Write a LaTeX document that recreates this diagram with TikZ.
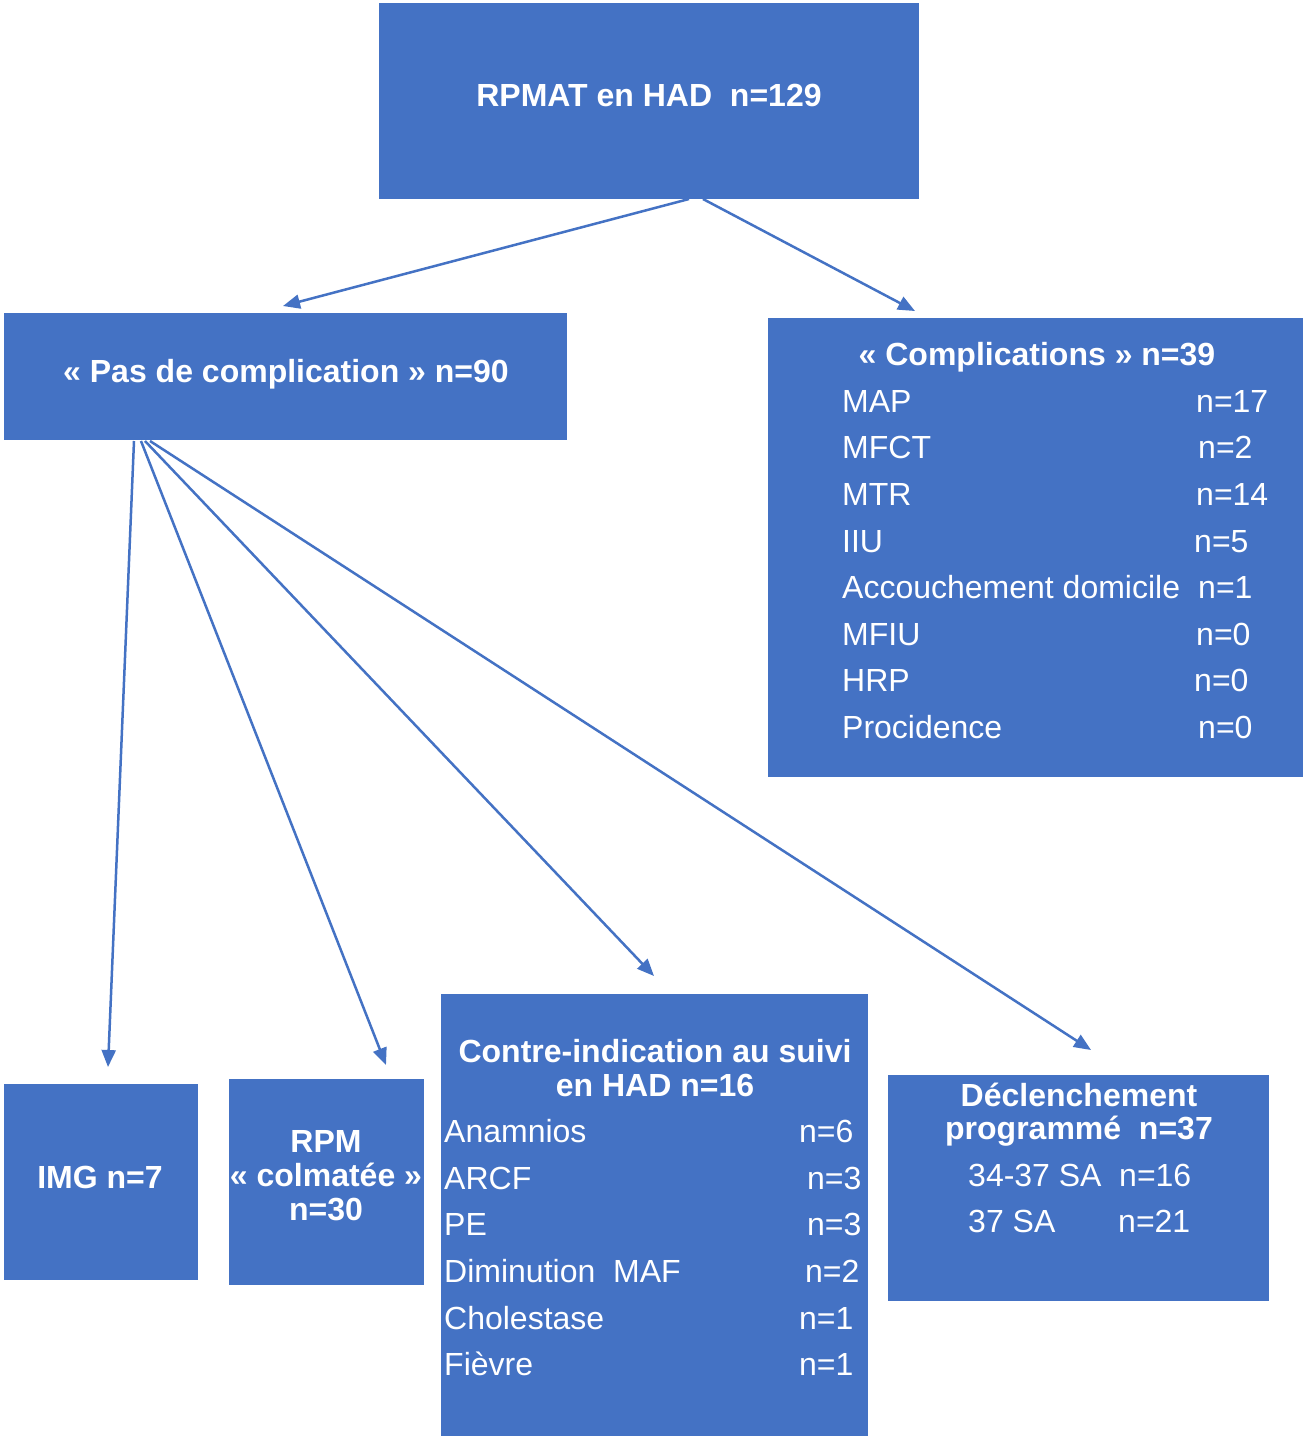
\documentclass[tikz,border=0pt]{standalone}
\usepackage{fontspec}
\setmainfont{Liberation Sans}
\usetikzlibrary{arrows.meta}
\definecolor{boxblue}{HTML}{4472C4}
\tikzset{
  box/.style={fill=boxblue, draw=none, inner sep=0pt},
  ttl/.style={text=white, font=\fontsize{32}{34}\selectfont\bfseries, anchor=base, inner sep=0pt},
  itm/.style={text=white, font=\fontsize{32}{34}\selectfont, anchor=base west, inner sep=0pt},
  conn/.style={draw=boxblue, line width=2.5pt, -{Triangle[length=17pt,width=14pt]}},
}
\begin{document}
\begin{tikzpicture}[x=1pt,y=-1pt]
\path[use as bounding box, fill=white] (0,0) rectangle (1303,1436);
% boxes
\path[box] (379,3) rectangle (919,199) coordinate (topbr);
\path[box] (4,313) rectangle (567,440);
\path[box] (768,318) rectangle (1303,777);
\path[box] (4,1084) rectangle (198,1280);
\path[box] (229,1079) rectangle (424,1285);
\path[box] (441,994) rectangle (868,1436);
\path[box] (888,1075) rectangle (1269,1301);
% top
\node[ttl] (toptxt) at (649,106.5) {RPMAT en HAD\ \ n=129};
% pas de complication
\node[ttl] (pastxt) at (286,382.5) {« Pas de complication »\ n=90};
% complications
\node[ttl] (comptxt) at (1037,365.5) {« Complications »\ n=39};
\node[itm] (c1) at (842,412.5) {MAP};
\node[itm] (c1n) at (1196,412.5) {n=17};
\node[itm] (c2) at (842,458.5) {MFCT};
\node[itm] (c2n) at (1198,458.5) {n=2};
\node[itm] (c3) at (842,505.5) {MTR};
\node[itm] (c3n) at (1196,505.5) {n=14};
\node[itm] (c4) at (842,552.5) {IIU};
\node[itm] (c4n) at (1194,552.5) {n=5};
\node[itm] (c5) at (842,598.5) {Accouchement domicile};
\node[itm] (c5n) at (1198,598.5) {n=1};
\node[itm] (c6) at (842,645.5) {MFIU};
\node[itm] (c6n) at (1196,645.5) {n=0};
\node[itm] (c7) at (842,691.5) {HRP};
\node[itm] (c7n) at (1194,691.5) {n=0};
\node[itm] (c8) at (842,738.5) {Procidence};
\node[itm] (c8n) at (1198,738.5) {n=0};
% IMG
\node[ttl] (imgtxt) at (100,1188.5) {IMG n=7};
% RPM
\node[ttl] (rpm1) at (326,1152.5) {RPM};
\node[ttl] (rpm2) at (326,1186.5) {« colmatée »};
\node[ttl] (rpm3) at (326,1220.5) {n=30};
% contre-indication
\node[ttl] (ci1) at (655,1062.5) {Contre-indication au suivi};
\node[ttl] (ci2) at (655,1096.5) {en HAD n=16};
\node[itm] (d1) at (444,1142.5) {Anamnios};
\node[itm] (d1n) at (799,1142.5) {n=6};
\node[itm] (d2) at (444,1189.5) {ARCF};
\node[itm] (d2n) at (807,1189.5) {n=3};
\node[itm] (d3) at (444,1235.5) {PE};
\node[itm] (d3n) at (807,1235.5) {n=3};
\node[itm] (d4) at (444,1282.5) {Diminution\ \ MAF};
\node[itm] (d4n) at (805,1282.5) {n=2};
\node[itm] (d5) at (444,1329.5) {Cholestase};
\node[itm] (d5n) at (799,1329.5) {n=1};
\node[itm] (d6) at (444,1375.5) {Fièvre};
\node[itm] (d6n) at (799,1375.5) {n=1};
% declenchement
\node[ttl] (de1) at (1079,1106.5) {Déclenchement};
\node[ttl] (de2) at (1079,1139.5) {programmé\ \ n=37};
\node[itm] (e1) at (968,1186.5) {34-37 SA};
\node[itm] (e1n) at (1119,1186.5) {n=16};
\node[itm] (e2) at (968,1232.5) {37 SA};
\node[itm] (e2n) at (1118,1232.5) {n=21};
% connector end points
\coordinate (s1) at (689,199);
\coordinate (s2) at (703,199);
\coordinate (t1) at (283,306);
\coordinate (t2) at (915,311);
\coordinate (p1) at (134,441);
\coordinate (p2) at (141,441);
\coordinate (p3) at (145,441);
\coordinate (p4) at (150,441);
\coordinate (q1) at (108,1067);
\coordinate (q2) at (386,1065);
\coordinate (q3) at (654,976);
\coordinate (q4) at (1091,1050);
\draw[conn] (s1) -- (t1);
\draw[conn] (s2) -- (t2);
\draw[conn] (p1) -- (q1);
\draw[conn] (p2) -- (q2);
\draw[conn] (p3) -- (q3);
\draw[conn] (p4) -- (q4);
\end{tikzpicture}
\end{document}
